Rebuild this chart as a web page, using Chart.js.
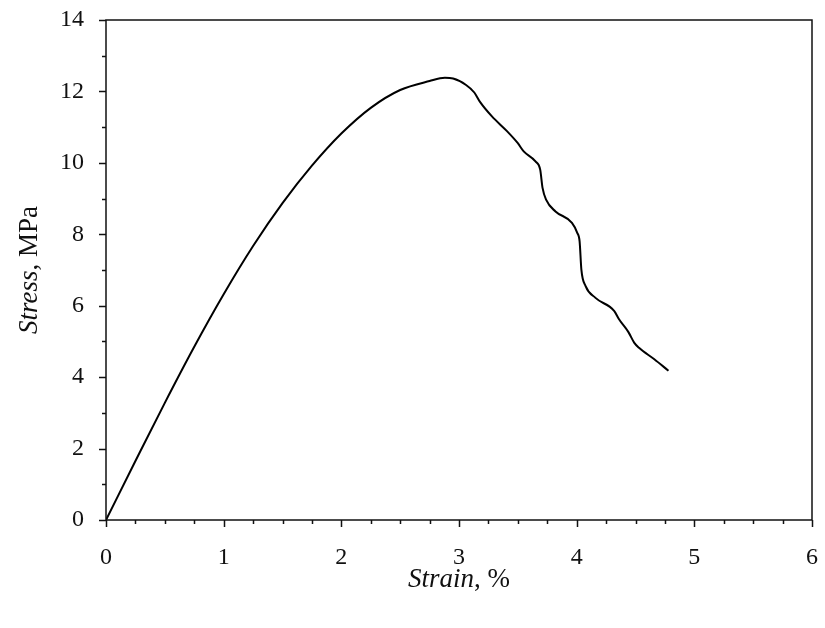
<!DOCTYPE html>
<html>
<head>
<meta charset="utf-8">
<script src="https://cdn.jsdelivr.net/npm/chart.js@4/dist/chart.umd.min.js"></script>
<style>
  body { margin: 0; background: #fff; }
  #wrap { width: 825px; height: 628px; }
</style>
</head>
<body>
<div id="wrap"><canvas id="stressChart" width="825" height="628"></canvas></div>
<script>
// stress-strain curve
const strain = [0, 0.25, 0.5, 0.75, 1.0, 1.25, 1.5, 1.75, 2.0, 2.25, 2.5, 2.75, 2.88, 2.95,
  3.06, 3.13, 3.18, 3.28, 3.41, 3.50, 3.55, 3.65, 3.69, 3.71, 3.74, 3.82, 3.96, 4.005,
  4.025, 4.04, 4.076, 4.16, 4.32, 4.36, 4.44, 4.49, 4.53, 4.66, 4.78];
const stress = [0, 1.65, 3.28, 4.85, 6.32, 7.67, 8.87, 9.92, 10.82, 11.54, 12.04, 12.29, 12.38, 12.36,
  12.18, 11.97, 11.70, 11.30, 10.88, 10.55, 10.32, 10.04, 9.81, 9.30, 8.97, 8.64, 8.32, 8.04,
  7.80, 7.01, 6.55, 6.22, 5.85, 5.62, 5.26, 4.96, 4.82, 4.50, 4.18];

const xRange = [0, 6];
const yRange = [0, 14];
const xTitle = ['Strain', ', %'];
const yTitle = ['Stress', ', MPa'];

const serif = "'Liberation Serif', 'Times New Roman', serif";
const ink = '#111';
const tickSize = 24;
const titleSize = 27;

function drawTitle(ctx, parts, size) {
    ctx.font = 'italic ' + size + 'px ' + serif;
    const w1 = ctx.measureText(parts[0]).width;
    ctx.font = size + 'px ' + serif;
    const w2 = ctx.measureText(parts[1]).width;
    let x = -(w1 + w2) / 2;
    ctx.textAlign = 'left';
    ctx.textBaseline = 'middle';
    ctx.fillStyle = ink;
    ctx.font = 'italic ' + size + 'px ' + serif;
    ctx.fillText(parts[0], x, 0);
    ctx.font = size + 'px ' + serif;
    ctx.fillText(parts[1], x + w1, 0);
}

const frame = {
    id: 'frame',
    afterDraw(chart) {
        const ctx = chart.ctx;
        const a = chart.chartArea;
        const xs = chart.scales.x, ys = chart.scales.y;
        ctx.save();
        ctx.strokeStyle = ink;
        ctx.lineWidth = 1.5;
        ctx.strokeRect(a.left, a.top, a.right - a.left, a.bottom - a.top);
        // major and minor tick marks, pointing outward
        ctx.beginPath();
        for (let v = xRange[0]; v <= xRange[1] + 1e-9; v += 0.25) {
            const px = Math.round(xs.getPixelForValue(v)) + 0.5;
            const len = Math.abs(v - Math.round(v)) < 1e-6 ? 7 : 4;
            ctx.moveTo(px, a.bottom);
            ctx.lineTo(px, a.bottom + len);
        }
        for (let v = yRange[0]; v <= yRange[1]; v += 1) {
            const py = Math.round(ys.getPixelForValue(v)) + 0.5;
            const len = v % 2 === 0 ? 7 : 4;
            ctx.moveTo(a.left, py);
            ctx.lineTo(a.left - len, py);
        }
        ctx.stroke();
        // axis titles with italic quantity names
        ctx.save();
        ctx.translate((a.left + a.right) / 2, 580);
        drawTitle(ctx, xTitle, titleSize);
        ctx.restore();
        ctx.save();
        ctx.translate(30, 270);
        ctx.rotate(-Math.PI / 2);
        drawTitle(ctx, yTitle, titleSize);
        ctx.restore();
        ctx.restore();
    }
};

function drawChart() {
    const ctx = document.getElementById('stressChart').getContext('2d');
    new Chart(ctx, {
        type: 'line',
        data: {
            datasets: [{
                data: strain.map((s, i) => ({ x: s, y: stress[i] })),
                borderColor: '#000',
                borderWidth: 2,
                pointRadius: 0,
                cubicInterpolationMode: 'monotone',
                fill: false
            }]
        },
        options: {
            responsive: false,
            animation: false,
            layout: { padding: { top: 20, right: 13, left: 0, bottom: 0 } },
            plugins: { legend: { display: false }, tooltip: { enabled: false } },
            scales: {
                x: {
                    type: 'linear',
                    min: xRange[0],
                    max: xRange[1],
                    afterFit: s => { s.height = 108; s.paddingLeft = 0; s.paddingRight = 0; },
                    grid: { display: false, drawTicks: false },
                    border: { display: false },
                    ticks: {
                        stepSize: 1,
                        padding: 23,
                        color: ink,
                        font: { family: serif, size: tickSize }
                    }
                },
                y: {
                    min: yRange[0],
                    max: yRange[1],
                    afterFit: s => { s.width = 106; s.paddingTop = 0; s.paddingBottom = 0; },
                    grid: { display: false, drawTicks: false },
                    border: { display: false },
                    ticks: {
                        stepSize: 2,
                        padding: 22,
                        color: ink,
                        font: { family: serif, size: tickSize }
                    }
                }
            }
        },
        plugins: [frame]
    });
}

Promise.all([
    document.fonts.load(tickSize + 'px "Liberation Serif"'),
    document.fonts.load('italic ' + titleSize + 'px "Liberation Serif"')
]).then(drawChart, drawChart);
</script>
</body>
</html>
